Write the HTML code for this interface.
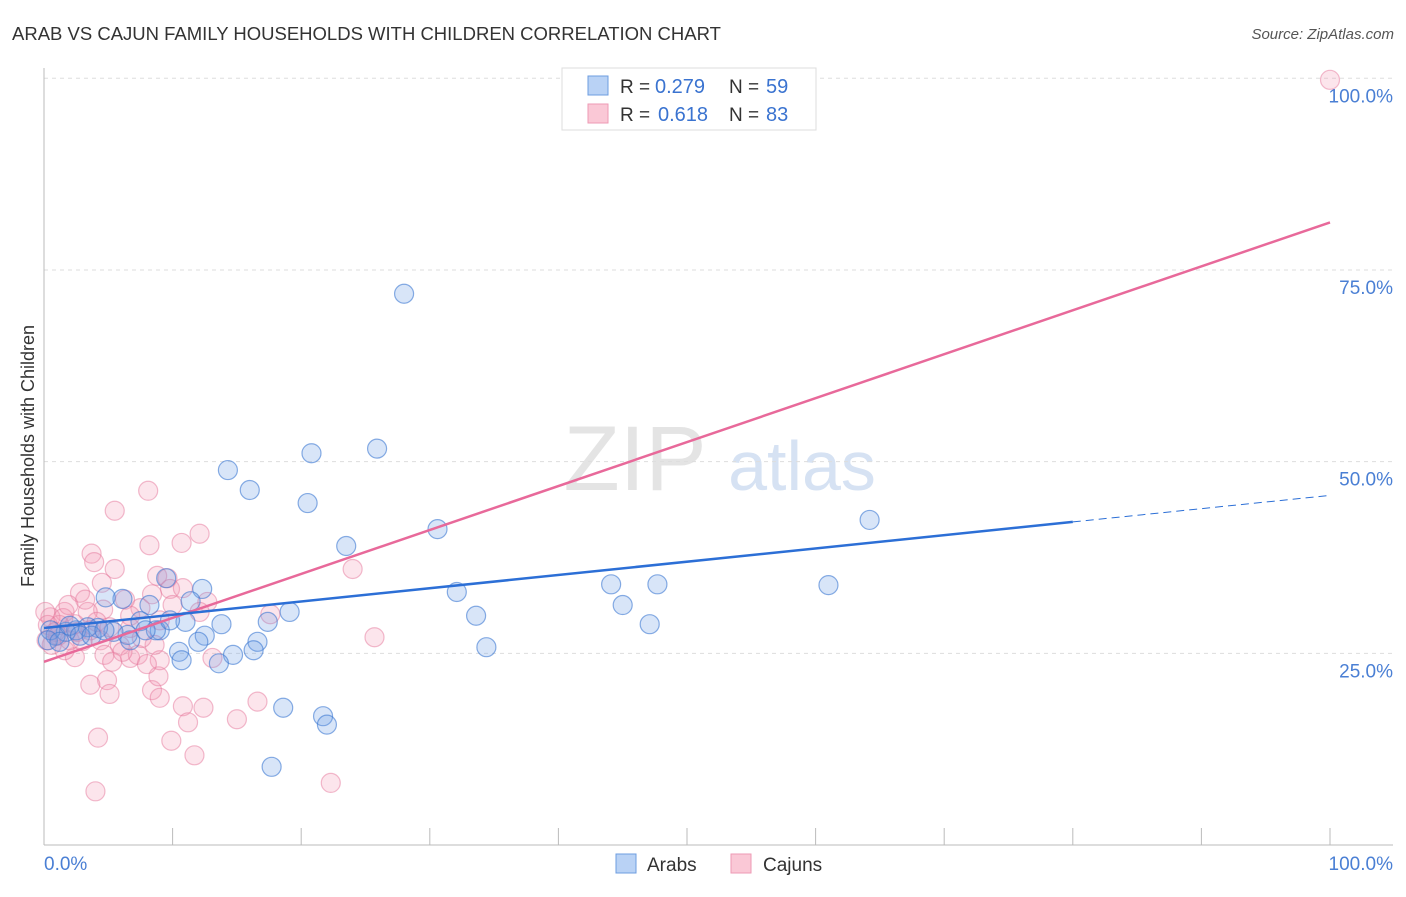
<!DOCTYPE html>
<html><head><meta charset="utf-8"><style>
body{margin:0;background:#fff;font-family:"Liberation Sans",sans-serif;}
svg text{font-family:"Liberation Sans",sans-serif;}
</style></head><body>
<svg id="chart" width="1406" height="892" xmlns="http://www.w3.org/2000/svg">
<text x="12" y="40" font-size="18.5" fill="#333">ARAB VS CAJUN FAMILY HOUSEHOLDS WITH CHILDREN CORRELATION CHART</text>
<text x="1394" y="39" font-size="15" fill="#555" text-anchor="end" font-style="italic">Source: ZipAtlas.com</text>
<text transform="translate(34,456) rotate(-90)" font-size="18" fill="#333" text-anchor="middle">Family Households with Children</text>
<g>
<text x="635" y="490" font-size="92" fill="#e4e4e4" text-anchor="middle" font-family="Liberation Serif">ZIP</text>
<text x="802" y="490" font-size="70" fill="#d6e2f3" text-anchor="middle">atlas</text>
</g>
<g id="grid"></g><g id="axes"></g><g id="pts"></g><g id="lines"></g>
<g>
<rect x="562" y="68" width="254" height="62" fill="#fff" stroke="#ddd"/>
<rect x="588" y="76" width="20" height="19" fill="#b9d2f5" stroke="#6d9de0"/>
<rect x="588" y="104" width="20" height="19" fill="#fac8d6" stroke="#ee9ab4"/>
<text x="620" y="93" font-size="19" fill="#333">R =</text>
<text x="655" y="93" font-size="20" fill="#3a73d0">0.279</text>
<text x="729" y="93" font-size="19" fill="#333">N =</text>
<text x="766" y="93" font-size="20" fill="#3a73d0">59</text>
<text x="620" y="121" font-size="19" fill="#333">R =</text>
<text x="658" y="121" font-size="20" fill="#3a73d0">0.618</text>
<text x="729" y="121" font-size="19" fill="#333">N =</text>
<text x="766" y="121" font-size="20" fill="#3a73d0">83</text>
</g>
<g>
<rect x="616" y="854" width="20" height="19" fill="#b9d2f5" stroke="#6d9de0"/>
<text x="647" y="871" font-size="19" fill="#333">Arabs</text>
<rect x="731" y="854" width="20" height="19" fill="#fac8d6" stroke="#ee9ab4"/>
<text x="763" y="871" font-size="19" fill="#333">Cajuns</text>
</g>
</svg>
<script>
const yTicks=[25,50,75,100];
const yTickLabels=["25.0%","50.0%","75.0%","100.0%"];
const arabX=[28.0,25.9,20.8,14.3,16.0,20.5,30.6,64.2,23.5,9.5,12.3,11.4,8.2,6.1,4.8,32.1,44.1,47.7,61.0,45.0,33.6,47.1,34.4,19.1,17.4,13.8,11.0,12.5,9.0,7.5,6.5,5.4,4.2,3.4,2.5,1.7,0.9,0.5,0.3,1.2,2.0,2.8,8.7,9.8,12.0,16.6,16.3,14.7,13.6,10.5,10.7,18.6,21.7,22.0,17.7,6.7,7.9,3.7,4.7];
const arabY=[71.9,51.7,51.1,48.9,46.3,44.6,41.2,42.4,39.0,34.8,33.4,31.8,31.3,32.1,32.3,33.0,34.0,34.0,33.9,31.3,29.9,28.8,25.8,30.4,29.1,28.8,29.1,27.3,28.0,29.2,27.4,27.8,28.3,28.4,28.0,27.8,27.3,28.0,26.7,26.5,28.6,27.3,28.0,29.3,26.5,26.5,25.4,24.8,23.7,25.2,24.1,17.9,16.8,15.7,10.2,26.7,28.0,27.3,28.0];
const cajunX=[100,8.1,5.5,12.1,10.7,8.2,3.7,3.9,5.5,24.0,8.8,9.6,4.5,2.8,9.8,10.8,8.4,12.7,7.5,4.6,1.6,0.5,17.6,12.1,6.7,3.4,9.0,2.4,4.4,5.9,8.6,6.7,4.7,7.3,2.4,1.6,0.6,25.7,3.6,2.0,1.2,5.3,13.1,4.9,3.6,5.1,8.4,9.0,8.9,16.6,10.8,12.4,15.0,11.2,9.9,4.2,11.7,4.0,22.3,0.1,0.3,0.9,1.5,3.0,4.1,7.6,10.0,6.3,9.0,3.2,1.9,6.7,2.6,0.2,1.1,5.1,6.1,8.0];
const cajunY=[99.8,46.2,43.6,40.6,39.4,39.1,38.0,36.9,36.0,36.0,35.1,34.8,34.2,32.9,33.4,33.5,32.7,31.7,30.9,30.7,30.4,29.7,30.1,30.4,29.9,30.4,29.3,28.8,26.7,26.0,26.1,24.4,24.8,24.8,24.5,25.4,26.1,27.1,28.0,26.7,28.7,23.9,24.4,21.5,20.9,19.7,20.2,19.2,22.0,18.7,18.1,17.9,16.4,16.0,13.6,14.0,11.7,7.0,8.1,30.4,28.7,27.8,29.6,26.6,29.1,27.0,31.3,32.0,24.1,32.0,31.3,28.3,27.8,26.7,27.3,28.4,25.2,23.6];
const arabTrend=[28.3,45.6];
const cajunTrend=[23.9,81.2];
const arabSolidEnd=80;

const NS="http://www.w3.org/2000/svg";
const X=v=>44+v*12.86, Y=v=>845-v*7.667;
function mk(p,t,a){const e=document.createElementNS(NS,t);for(const k in a)e.setAttribute(k,a[k]);p.appendChild(e);return e;}
const grid=document.getElementById('grid'),axes=document.getElementById('axes'),pts=document.getElementById('pts'),lines=document.getElementById('lines');
yTicks.forEach((t,i)=>{
 const g=mk(grid,'line',{x1:44,x2:1393,y1:Y(t),y2:Y(t),stroke:'#ddd','stroke-dasharray':'4,4'});
 
 
 const tx=mk(axes,'text',{x:1393,y:Y(t)+24,'font-size':19,fill:'#4a7fd4','text-anchor':'end'});
 tx.textContent=yTickLabels[i];
 
 
});
const ya=mk(axes,'line',{x1:44,x2:44,y1:68,y2:845,stroke:'#bbb'});


const xa=mk(axes,'line',{x1:44,x2:1393,y1:845,y2:845,stroke:'#bbb'});


for(let t=0;t<=100;t+=10){const tk=mk(axes,'line',{x1:X(t),x2:X(t),y1:828,y2:845,stroke:'#bbb'});
 
 }
const xl0=mk(axes,'text',{x:44,y:870,'font-size':19,fill:'#4a7fd4'});xl0.textContent='0.0%';


const xl1=mk(axes,'text',{x:1393,y:870,'font-size':19,fill:'#4a7fd4','text-anchor':'end'});xl1.textContent='100.0%';


cajunX.forEach((v,i)=>{const c=mk(pts,'circle',{cx:X(v),cy:Y(cajunY[i]),r:9.5,fill:'rgba(244,150,180,0.25)',stroke:'rgba(230,120,155,0.5)','stroke-width':1.2});
 
 });
arabX.forEach((v,i)=>{const c=mk(pts,'circle',{cx:X(v),cy:Y(arabY[i]),r:9.5,fill:'rgba(110,160,230,0.27)',stroke:'rgba(60,120,210,0.6)','stroke-width':1.2});
 
 });
const at=v=>arabTrend[0]+(arabTrend[1]-arabTrend[0])*v/100;
const l1=mk(lines,'line',{x1:X(0),y1:Y(cajunTrend[0]),x2:X(100),y2:Y(cajunTrend[1]),stroke:'#e8699a','stroke-width':2.5});


const l2=mk(lines,'line',{x1:X(0),y1:Y(at(0)),x2:X(arabSolidEnd),y2:Y(at(arabSolidEnd)),stroke:'#2c6fd6','stroke-width':2.5});


const l3=mk(lines,'line',{x1:X(arabSolidEnd),y1:Y(at(arabSolidEnd)),x2:X(100),y2:Y(at(100)),stroke:'#2c6fd6','stroke-width':1,'stroke-dasharray':'8,5'});


</script>
</body></html>
